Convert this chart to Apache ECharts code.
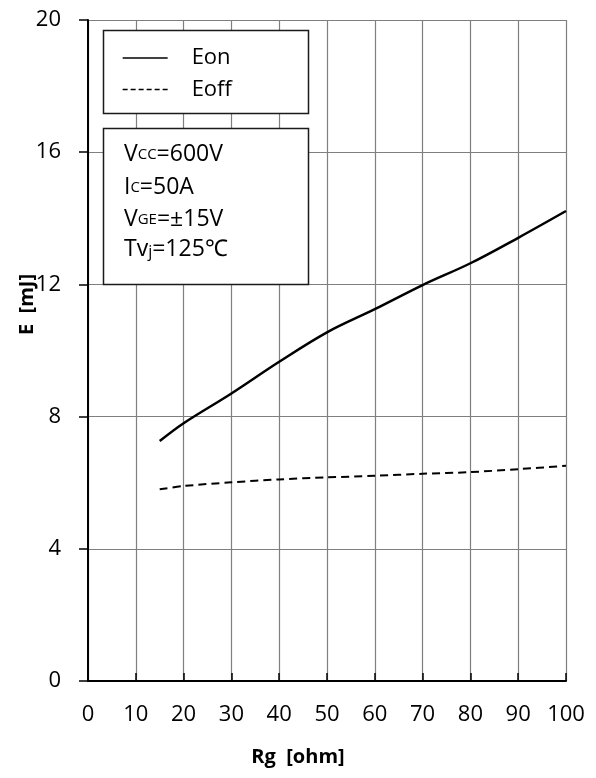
<!DOCTYPE html>
<html>
<head>
<meta charset="utf-8">
<script src="https://cdn.jsdelivr.net/npm/echarts@6/dist/echarts.min.js"></script>
<style>
  html, body { margin: 0; padding: 0; background: #fff; }
  #chart { width: 596px; height: 778px; }
</style>
</head>
<body>
<div id="chart"></div>
<script>
// ---- data ----
const seriesNames = ['Eon', 'Eoff'];
const eonRg  = [15, 20, 30, 40, 50, 60, 70, 80, 90, 100];
const eonE   = [7.26, 7.80, 8.70, 9.66, 10.55, 11.25, 11.98, 12.64, 13.41, 14.22];
const eoffRg = [15, 20, 30, 40, 50, 60, 70, 80, 90, 100];
const eoffE  = [5.80, 5.90, 6.01, 6.10, 6.16, 6.21, 6.27, 6.32, 6.41, 6.51];
const xTicks = [0, 10, 20, 30, 40, 50, 60, 70, 80, 90, 100];
const yTicks = [0, 4, 8, 12, 16, 20];
const xName = 'Rg  [ohm]';
const yName = 'E  [mJ]';
const conditions = [
  [['n', 'V'], ['s', 'CC'], ['n', '=600V']],
  [['n', 'I'], ['s', 'C'], ['n', '=50A']],
  [['n', 'V'], ['s', 'GE'], ['n', '=±15V']],
  [['n', 'Tv'], ['j', 'j'], ['n', '=125℃']]
];
const condCenters = [158, 191, 223, 253];

const FONT = 'Open Sans';
const pair = (xs, ys) => xs.map((x, i) => [x, ys[i]]);

const condTexts = conditions.map((line, i) => ({
  type: 'text',
  left: 124,
  top: condCenters[i] - 15,
  z: 100,
  style: {
    text: line.map(([k, t]) => '{' + k + '|' + t + '}').join(''),
    rich: {
      n: { fontSize: 23, fontFamily: FONT, fill: '#000', verticalAlign: 'bottom', lineHeight: 30 },
      s: { fontSize: 15, fontFamily: FONT, fill: '#000', verticalAlign: 'bottom', lineHeight: 15, padding: [0, 0, 4, 0] },
      j: { fontSize: 16, fontFamily: FONT, fill: '#000', verticalAlign: 'bottom', lineHeight: 16, padding: [0, 0, 1, 0] }
    }
  }
}));

const chart = echarts.init(document.getElementById('chart'), null, { renderer: 'canvas' });
chart.setOption({
  animation: false,
  backgroundColor: '#fff',
  grid: { left: 88, top: 20, right: 30, bottom: 97, containLabel: false, outerBoundsMode: 'none' },
  xAxis: {
    type: 'value', min: xTicks[0], max: xTicks[xTicks.length - 1], interval: 10,
    name: xName, nameLocation: 'middle', nameGap: 66, nameMoveOverlap: false,
    nameTextStyle: { fontFamily: FONT, fontSize: 20, fontWeight: 'bold', color: '#000', padding: [0, 58, 0, 0] },
    axisLine: { show: true, onZero: false, lineStyle: { color: '#000', width: 2 } },
    axisTick: { show: true, inside: true, length: 8, lineStyle: { color: '#000', width: 1.5 } },
    axisLabel: { fontFamily: FONT, fontSize: 22, color: '#000', margin: 23 },
    splitLine: { show: true, lineStyle: { color: '#7f7f7f', width: 1.2 } }
  },
  yAxis: {
    type: 'value', min: yTicks[0], max: yTicks[yTicks.length - 1], interval: 4,
    name: yName, nameLocation: 'middle', nameGap: 51, nameRotate: 90, nameMoveOverlap: false,
    nameTextStyle: { fontFamily: FONT, fontSize: 20, fontWeight: 'bold', color: '#000', padding: [0, 0, 0, 92] },
    axisLine: { show: true, onZero: false, lineStyle: { color: '#000', width: 2 } },
    axisTick: { show: true, inside: false, length: 9, lineStyle: { color: '#000', width: 1.5 } },
    axisLabel: { fontFamily: FONT, fontSize: 22, color: '#000', margin: 27 },
    splitLine: { show: true, lineStyle: { color: '#7f7f7f', width: 1.2 } }
  },
  legend: {
    orient: 'vertical',
    left: 122, top: 47,
    padding: 0,
    itemWidth: 45, itemHeight: 14, itemGap: 9.5,
    z: 100,
    textStyle: { fontFamily: FONT, fontSize: 22, color: '#000', padding: [0, 0, 0, 19] },
    data: [
      { name: seriesNames[0], itemStyle: { color: 'rgba(0,0,0,0)', borderWidth: 0 },
        lineStyle: { color: '#000', width: 1.3, type: 'solid' } },
      { name: seriesNames[1], itemStyle: { color: 'rgba(0,0,0,0)', borderWidth: 0 },
        lineStyle: { color: '#000', width: 1.3, type: [5, 3] } }
    ]
  },
  graphic: [
    { type: 'rect', z: 90, shape: { x: 103.5, y: 30.5, width: 205, height: 83 },
      style: { fill: '#fff', stroke: '#1a1a1a', lineWidth: 1.5 } },
    { type: 'rect', z: 90, shape: { x: 103.5, y: 128.5, width: 205, height: 156 },
      style: { fill: '#fff', stroke: '#1a1a1a', lineWidth: 1.5 } }
  ].concat(condTexts),
  series: [
    {
      name: seriesNames[0], type: 'line', smooth: 0.35, symbol: 'none',
      itemStyle: { color: '#000' },
      lineStyle: { color: '#000', width: 2.5, type: 'solid' },
      data: pair(eonRg, eonE)
    },
    {
      name: seriesNames[1], type: 'line', smooth: 0.3, symbol: 'none',
      itemStyle: { color: '#000' },
      lineStyle: { color: '#000', width: 2, type: [8, 5] },
      data: pair(eoffRg, eoffE)
    }
  ]
});
</script>
</body>
</html>
